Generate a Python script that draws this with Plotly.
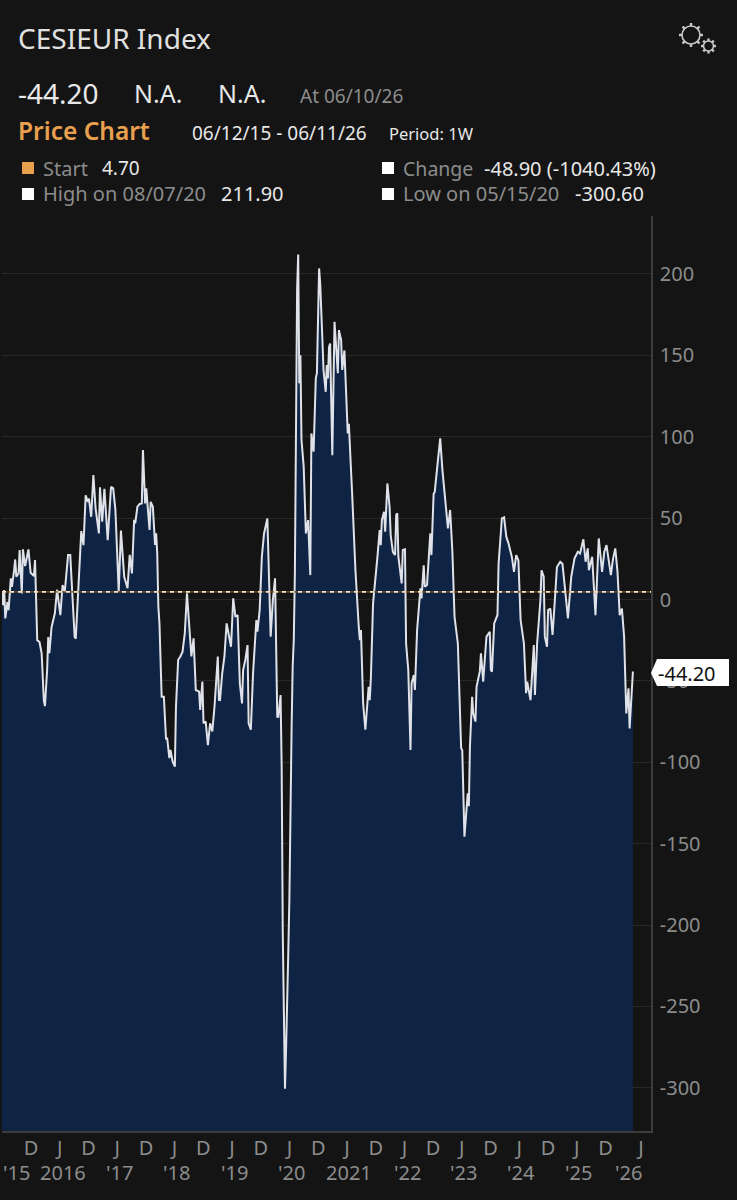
import plotly.graph_objects as go
import pandas as pd
import numpy as np

W, H = 737, 1200

# weekly index readings, week number counted from the chart start (06/12/15)
start_date = "2015-06-12"
weeks_2015_17 = [0, 1, 2, 3, 5, 6, 8, 9, 11, 12, 13, 15, 16, 18, 19, 21, 24, 26, 29, 30, 32, 34, 36, 38, 39,
                 41, 42, 43, 45, 48, 50, 53, 55, 57, 60, 62, 64, 66, 67, 69, 70, 72, 74, 76, 78, 79, 81, 83,
                 85, 88, 89, 91, 93, 96, 99, 101, 103, 105, 106, 108, 110, 111, 114, 116, 118, 120, 121, 123,
                 125, 127, 128, 130, 131, 133, 134, 135, 137, 139, 140, 141]
values_2015_17 = [4.7, -3.4, 5.8, -11.6, -1.4, -6.5, 13, 7.8, 18, 24.6, 14, 16, 30.4, 3.7, 30.8, 20.5, 30.8, 16.4,
                  14.4, 24.2, -25, -26, -33, -62, -65.5, -43.3, -23, -33, -17, -8.5, 6, -9.6, 8.9, 4.7, 27.3,
                  27.3, 1.7, -23, -24, 1.7, 21, 42, 33.4, 64, 60, 62, 50.8, 76.4, 56, 40.6, 69, 47.8, 68, 36.5,
                  69.3, 68.3, 55, 24.3, 4.8, 42.3, 19, 14, 6.9, 27.4, 16, 48.9, 46.8, 57, 58.7, 59, 91.9, 59,
                  68.3, 51, 42.7, 60, 57, 33.5, 40.7, 28]

weeks_2018_19 = [142, 143, 145, 147, 149, 150, 152, 153, 155, 157, 158, 160, 162, 164, 166, 168, 170, 172, 174,
                 176, 179, 180, 182, 183, 185, 187, 189, 191, 193, 196, 197, 198, 200, 202, 204, 206, 208, 210,
                 212, 214, 216, 218, 219, 221, 223, 224, 226, 228, 231, 232, 234, 236, 238, 241, 244, 246, 248,
                 250, 251, 253]
values_2018_19 = [-4.4, -14.6, -59.7, -59.7, -86, -85, -97.5, -92.4, -99.6, -102.7, -65.8, -37, -35, -32, -20.8,
                  3.8, -16.7, -35, -23.8, -55.6, -56.6, -67.8, -50.4, -76, -75, -89.4, -76, -81, -65.8, -35,
                  -61.7, -61.8, -45.4, -35, -14.7, -22.8, -29, 0.7, -10.6, -9.5, -51.5, -63.8, -43.3, -37, -28,
                  -76, -80, -45.4, -12.6, -19.8, -6.5, 26.3, 40.6, 49.8, -22.8, -0.3, 13, -72, -72, -58.7]

weeks_2020_21 = [254, 255, 256, 257, 258, 259, 260, 261, 262, 263, 264, 265, 266, 267, 268, 269, 270, 271, 272,
                 274, 276, 278, 280, 281, 283, 285, 286, 288, 289, 291, 292, 294, 295, 296, 297, 298, 300, 302,
                 305, 306, 308, 309, 311, 314, 315, 318, 320, 321, 324, 325, 326, 328, 330, 332, 333, 334, 335,
                 337, 339, 341, 343, 344, 345, 347, 348, 350, 352, 353, 355, 357, 358, 359, 360, 361, 363, 364,
                 366]
values_2020_21 = [-103, -205, -262, -300.6, -276, -252, -217, -184, -115, -80, -41, -25, 16, 139, 190, 211.9,
                  132.8, 150, 98, 81.6, 40.6, 48.8, 15, 102, 90.8, 136, 139, 203.4, 194, 159.4, 141, 127.6, 144,
                  135.8, 155, 157.3, 88.7, 170.6, 139, 165.5, 159.4, 141, 153, 102, 108, 65, 26, 18, -16.7, -25,
                  -18.8, -63.8, -80, -63.8, -53.6, -61.8, -48.5, -2.4, 9.9, 26.3, 42.6, 33.4, 48.8, 53.9, 41.6,
                  71.3, 57, 39.6, 29.3, 27.3, 51.9, 52.9, 26.3, 21, 9.9, 30.4, 30.8]

weeks_2022_23 = [367, 369, 371, 372, 374, 375, 377, 378, 380, 381, 383, 384, 386, 389, 390, 392, 393, 395, 398,
                 400, 402, 405, 407, 408, 409, 411, 414, 417, 418, 420, 421, 423, 424, 425, 427, 428, 430, 431,
                 434, 435, 437, 440, 443, 444, 445, 447, 450, 451, 454, 456, 458, 460, 463, 465, 467, 469, 471]
values_2022_23 = [-27, -43.4, -92.5, -51.5, -46.4, -55.6, -18.8, -10.6, 6.8, 0.7, 21, 7.8, 8.9, 40.6, 27.3, 65,
                  66, 79.5, 99, 79.5, 64, 43.7, 55, 43.7, 30, -10.6, -27, -91.4, -92.5, -145.7, -135.5, -119,
                  -127, -90, -59.7, -70, -75, -53.6, -44, -33, -50.5, -22.8, -19.8, -43.3, -44.3, -14.7, -9.5,
                  22, 49.8, 50.5, 38.6, 34.5, 26.3, 17, 27.3, 24, -12.6]

weeks_2024_26 = [474, 476, 477, 480, 483, 484, 486, 489, 490, 492, 493, 495, 496, 498, 500, 502, 504, 507, 509,
                 511, 514, 517, 520, 523, 525, 528, 530, 532, 533, 536, 539, 541, 542, 545, 547, 549, 551, 553,
                 555, 557, 559, 561, 563, 565, 567, 569, 570, 573]
values_2024_26 = [-27, -57.6, -50.5, -61.8, -28, -58.7, -27, -0.3, 18, 14, -22.8, -29, -6.5, -5.5, -21.8, -1.4,
                  20, 23.2, 22, 8.9, -11.6, 14, 25.3, 29.3, 28.3, 37, 23.2, 31.4, 18, 26.3, -9.6, 22, 37.5, 17,
                  29.3, 33.4, 25.3, 15, 25.3, 31.4, 17, -9.6, -5.5, -22.8, -70, -54.6, -79.2, -44.2]

start_value = 4.7
last_value = -44.2

y_ticks = [200, 150, 100, 50, 0, -50, -100, -150, -200, -250, -300]

month_ticks = ["2015-12-13", "2016-06-13", "2016-12-13", "2017-06-13", "2017-12-13", "2018-06-13", "2018-12-13",
               "2019-06-13", "2019-12-13", "2020-06-13", "2020-12-13", "2021-06-13", "2021-12-13", "2022-06-13",
               "2022-12-13", "2023-06-13", "2023-12-13", "2024-06-13", "2024-12-13", "2025-06-13", "2025-12-13",
               "2026-07-26"]
month_labels = ["D", "J"] * 11

year_labels = ["'15", "2016", "'17", "'18", "'19", "'20", "2021", "'22", "'23", "'24", "'25", "'26"]
year_dates = ["2015-09-15", "2016-07-02", "2017-07-01", "2018-06-28", "2019-06-26", "2020-06-25", "2021-06-26",
              "2022-06-30", "2023-06-27", "2024-06-24", "2025-06-22", "2026-05-11"]

weeks = weeks_2015_17 + weeks_2018_19 + weeks_2020_21 + weeks_2022_23 + weeks_2024_26
values = values_2015_17 + values_2018_19 + values_2020_21 + values_2022_23 + values_2024_26
dates = pd.Timestamp(start_date) + pd.to_timedelta(weeks, unit="W")

BG = "#141414"
GRAY = "#8c8c8c"
WHITE = "#e8e8e8"
ORANGE = "#e9a04e"
FONT = "Noto Sans"
y_min, y_max = -326.5, 235.6


# pixel helpers for the page furniture
def px(x):
    return x / W


def py(y):
    return 1 - y / H


def label(x, y, text, color=WHITE, size=18, weight=None):
    return dict(xref="paper", yref="paper", x=px(x - 2.5), y=py(y), text=text, showarrow=False, xanchor="left",
                yanchor="middle", font=dict(family=FONT, size=size, color=color, weight=weight))


def square(x, y, color):
    return dict(type="rect", xref="paper", yref="paper", x0=px(x), x1=px(x + 12), y0=py(y - 6), y1=py(y + 6),
                fillcolor=color, line_width=0, layer="above")


def gear(cx, cy, r, tooth):
    shapes = [dict(type="circle", xref="paper", yref="paper", x0=px(cx - r), x1=px(cx + r), y0=py(cy - r),
                   y1=py(cy + r), line=dict(color="#c8c8c8", width=1.6))]
    for a in np.arange(0, 2 * np.pi, np.pi / 4):
        shapes.append(dict(type="line", xref="paper", yref="paper",
                           x0=px(cx + r * np.cos(a)), x1=px(cx + (r + tooth) * np.cos(a)),
                           y0=py(cy + r * np.sin(a)), y1=py(cy + (r + tooth) * np.sin(a)),
                           line=dict(color="#c8c8c8", width=2.4)))
    return shapes


fig = go.Figure()

# invisible floor so the area runs down to the bottom of the plot
fig.add_trace(go.Scatter(x=dates, y=[y_min] * len(values), mode="lines", line=dict(width=0),
                         hoverinfo="skip", showlegend=False))
fig.add_trace(go.Scatter(x=dates, y=values, mode="lines", line=dict(color="#dfe2e8", width=2),
                         fill="tonexty", fillcolor="rgba(15,37,73,0.92)", hoverinfo="skip", showlegend=False))

annotations = [
    label(18, 38, "CESIEUR Index", "#e0e0e0", 28),
    label(18, 93, "-44.20", "#e8e8e8", 28),
    label(134, 93, "N.A.", "#e8e8e8", 25),
    label(218, 93, "N.A.", "#e8e8e8", 25),
    label(300, 96, "At 06/10/26", GRAY, 19),
    label(18, 131, "Price Chart", ORANGE, 24.5, 600),
    label(192, 133, "06/12/15 - 06/11/26", WHITE, 19),
    label(389, 133, "Period: 1W", WHITE, 16.5),
    label(43, 168, "Start", GRAY, 20),
    label(102, 168, "4.70", WHITE, 19),
    label(403, 168, "Change", GRAY, 19.5),
    label(484, 168, "-48.90 (-1040.43%)", WHITE, 20),
    label(43, 194, "High on 08/07/20", GRAY, 20),
    label(221, 194, "211.90", WHITE, 20),
    label(403, 194, "Low on 05/15/20", GRAY, 20),
    label(575, 194, "-300.60", WHITE, 20),
    label(658, 673, "-44.20", "#111111", 20),
]
for lab, d in zip(year_labels, year_dates):
    annotations.append(dict(xref="x", yref="paper", x=d, y=py(1172.5), text=lab, showarrow=False, xanchor="center",
                            yanchor="middle", font=dict(family=FONT, size=20, color=GRAY)))

shapes = [
    # start level, orange with pale dashes on top
    dict(type="line", xref="paper", yref="y", x0=px(2), x1=px(651), y0=start_value, y1=start_value,
         line=dict(color="#7a5429", width=1.4), layer="above"),
    dict(type="line", xref="paper", yref="y", x0=px(2), x1=px(651), y0=start_value, y1=start_value,
         line=dict(color="#f6e3c4", width=1.7, dash="4px 4px"), layer="above"),
    square(22, 168, ORANGE),
    square(382, 168, "#ffffff"),
    square(22, 194, "#ffffff"),
    square(382, 194, "#ffffff"),
    # last value tag
    dict(type="path", xref="paper", yref="paper",
         path=f"M {px(651)} {py(673)} L {px(657)} {py(659)} L {px(729)} {py(659)} L {px(729)} {py(686)} "
              f"L {px(657)} {py(686)} Z",
         fillcolor="#ffffff", line_width=0, layer="above"),
] + gear(691, 35, 9, 3) + gear(708.5, 46, 5, 2.5)

fig.update_layout(
    width=W, height=H, margin=dict(l=0, r=0, t=0, b=0),
    paper_bgcolor=BG, plot_bgcolor=BG, showlegend=False,
    annotations=annotations, shapes=shapes,
    xaxis=dict(domain=[px(2), px(651)], type="date", range=["2015-06-12", "2026-09-28"],
               tickmode="array", tickvals=month_ticks, ticktext=month_labels,
               ticks="", ticklabelstandoff=-2, tickfont=dict(family=FONT, size=20, color=GRAY),
               showgrid=False, showline=True, linecolor="#3c3c3c", linewidth=1.5, zeroline=False),
    yaxis=dict(domain=[py(1131), py(216)], side="right", range=[y_min, y_max],
               tickmode="array", tickvals=y_ticks, ticktext=[str(v) for v in y_ticks],
               ticks="outside", ticklen=3, tickcolor=BG, tickfont=dict(family=FONT, size=20, color=GRAY),
               showgrid=True, gridcolor="#292929", gridwidth=1, showline=True, linecolor="#3c3c3c",
               linewidth=1.5, zeroline=False),
)

fig.write_html("out.html", post_script="document.body.style.margin='0';document.body.style.background='#141414';",
               config=dict(displayModeBar=False))
